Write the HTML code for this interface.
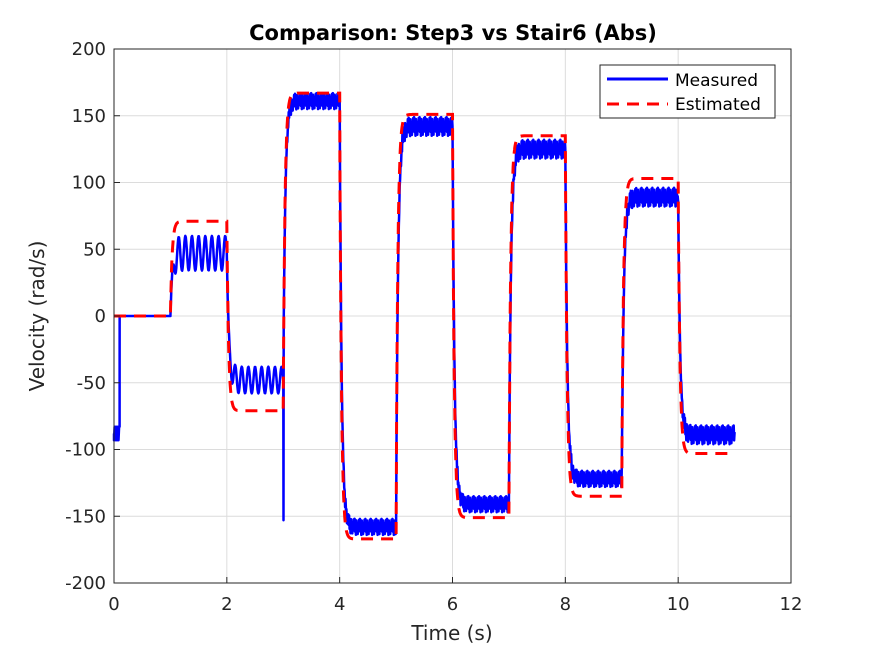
<!DOCTYPE html>
<html><head><meta charset="utf-8"><style>
body{margin:0;background:#fff;}
svg text{font-family:"DejaVu Sans","Liberation Sans",sans-serif;}
</style></head><body>
<svg id="chart" width="875" height="656" viewBox="0 0 875 656">
<rect width="875" height="656" fill="#fff"/>
<g id="grid"></g>
<g id="series"></g>
<rect x="114" y="49" width="677" height="534" fill="none" stroke="#262626" stroke-width="1"/>
<g id="ticks"></g>
<text x="453" y="40" text-anchor="middle" font-size="21" font-weight="bold" fill="#000">Comparison: Step3 vs Stair6 (Abs)</text>
<text x="452" y="640" text-anchor="middle" font-size="20" fill="#262626">Time (s)</text>
<text transform="translate(44,316) rotate(-90)" text-anchor="middle" font-size="20" fill="#262626">Velocity (rad/s)</text>
<g>
<rect x="600" y="65" width="175" height="53" fill="#fff" stroke="#262626"/>
<line x1="607" y1="79" x2="668" y2="79" stroke="#0000ff" stroke-width="3"/>
<text x="675" y="86" font-size="17" fill="#000">Measured</text>
<line x1="607" y1="104" x2="668" y2="104" stroke="#ff0000" stroke-width="3" stroke-dasharray="12,8"/>
<text x="675" y="110" font-size="17" fill="#000">Estimated</text>
</g>
</svg>
<script>
const xTicks=[0,2,4,6,8,10,12];
const yTicks=[-200,-150,-100,-50,0,50,100,150,200];
const segStarts=[0,1,2,3,4,5,6,7,8,9,10];
const estLevels=[0,71,-71,167,-167,151,-151,135,-135,103,-103];
const measMean=[0,47,-48,161,-158,142,-141,125,-122,89,-89];
const measAmp=[0,13,10,6,6,7,6,7,6,7,7];
const initLevel=-88;
const spikeMin=-153;
const endTime=11;
const X=v=>114+v*(677/12);
const Y=v=>316-v*(534/400);
const NS='http://www.w3.org/2000/svg';
function mk(t,a,p){const e=document.createElementNS(NS,t);for(const k in a)e.setAttribute(k,a[k]);p.appendChild(e);return e;}
const grid=document.getElementById('grid'),ticks=document.getElementById('ticks'),series=document.getElementById('series');
xTicks.forEach(v=>{
 const l=mk('line',{x1:X(v),x2:X(v),y1:49,y2:583,stroke:'#dcdcdc'},grid);
 
 
 const t=mk('line',{x1:X(v),x2:X(v),y1:583,y2:577,stroke:'#262626'},ticks);
 
 
 const s=mk('text',{x:X(v),y:610,'text-anchor':'middle','font-size':'18',fill:'#262626'},ticks);s.textContent=v;
 
 
});
yTicks.forEach(v=>{
 const l=mk('line',{x1:114,x2:791,y1:Y(v),y2:Y(v),stroke:'#dcdcdc'},grid);
 
 
 const t=mk('line',{x1:114,x2:120,y1:Y(v),y2:Y(v),stroke:'#262626'},ticks);
 
 
 const s=mk('text',{x:106,y:Y(v)+6,'text-anchor':'end','font-size':'18',fill:'#262626'},ticks);s.textContent=v;
 
 
});
function levelAt(levels,t,tau){
 let i=Math.min(levels.length-1,Math.floor(t));
 const prev=i>0?levels[i-1]:levels[0];
 const dt=t-segStarts[i];
 return levels[i]+(prev-levels[i])*Math.exp(-dt/tau);
}
let pe=[];
for(let t=0;t<=endTime+1e-9;t+=0.005){pe.push(X(t).toFixed(1)+','+Y(levelAt(estLevels,t,0.03)).toFixed(1));}
const jitter=[1,-0.6,0.3,-1,0.8,-0.2,0.5,-0.9,0.1,-0.5,0.9,-0.3];
let pm=[];
pm.push(X(0)+','+Y(initLevel));
for(let t=0;t<0.1;t+=0.01){pm.push(X(t).toFixed(1)+','+Y(initLevel+(t*1000%20<10?-5:5)).toFixed(1));}
pm.push(X(0.1)+','+Y(0));
pm.push(X(1)+','+Y(0));
let k=0;
for(let t=1.0;t<=endTime;t+=0.008){
 const i=Math.min(segStarts.length-1,Math.floor(t));
 let base=levelAt(measMean,t,0.035);
 const dt=t-segStarts[i];
 let osc=jitter[k%jitter.length]*measAmp[i]*Math.min(1,dt/0.1);
 k++;
 if(i<=2) osc=measAmp[i]*Math.sin(dt*2*Math.PI*8.5)*Math.min(1,dt/0.1);
 pm.push(X(t).toFixed(1)+','+Y(base+osc).toFixed(1));
 if(i===3&&dt<0.008){pm.push(X(t+0.004).toFixed(1)+','+Y(spikeMin).toFixed(1));}
}
const m=mk('polyline',{points:pm.join(' '),fill:'none',stroke:'#0000ff','stroke-width':'2.5','stroke-linejoin':'round'},series);


const e=mk('polyline',{points:pe.join(' '),fill:'none',stroke:'#ff0000','stroke-width':'3','stroke-dasharray':'12,8'},series);


</script>
</body></html>
